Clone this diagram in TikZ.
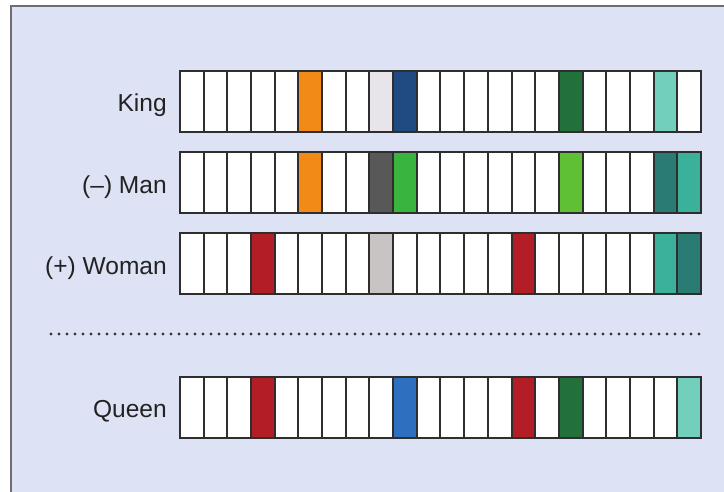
\documentclass[tikz,border=0pt]{standalone}
\usepackage{fontspec}
\setmainfont{Liberation Sans}
\usetikzlibrary{positioning}
\definecolor{bgblue}{HTML}{DDE2F4}
\definecolor{framegray}{HTML}{6E6E72}
\definecolor{cellline}{HTML}{2E2E2E}
\definecolor{txtgray}{HTML}{222222}
% cell colours
\colorlet{w}{white}
\definecolor{or}{HTML}{F28A18}
\definecolor{lg}{HTML}{E7E5EA}
\definecolor{db}{HTML}{1F4A82}
\definecolor{dg}{HTML}{22703A}
\definecolor{lt}{HTML}{72CFBB}
\definecolor{gy}{HTML}{585858}
\definecolor{gr}{HTML}{38B43F}
\definecolor{lgr}{HTML}{5FBF35}
\definecolor{dt}{HTML}{2A7B74}
\definecolor{tl}{HTML}{3BB09B}
\definecolor{rd}{HTML}{B31D25}
\definecolor{mg}{HTML}{C8C4C4}
\definecolor{bl}{HTML}{2F6FBF}
\tikzset{
  cell/.style={draw=cellline, line width=1.5pt, inner sep=0pt,
    minimum width=17.76pt, minimum height=45.4pt, anchor=north west},
  wordlbl/.style={anchor=base east, inner sep=0pt, text=txtgray,
    font=\fontsize{18.4}{22}\selectfont},
  dotline/.style={draw=txtgray!90, line width=2.4pt, line cap=round,
    dash pattern=on 0pt off 6pt},
}

\begin{document}
\begin{tikzpicture}[x=0.75pt, y=-0.75pt]
  \useasboundingbox (0,0) rectangle (724,492);
  \clip (0,0) rectangle (724,492);
  \draw[fill=bgblue, draw=framegray, line width=1.5pt] (11,6) rectangle (760,520);

  % King
  \node[wordlbl] (kinglbl) at (167,111.7) {King};
  \foreach \c [count=\i from 0] in {w,w,w,w,w,or,w,w,lg,db,w,w,w,w,w,w,dg,w,w,w,lt,w}
    \node[cell, fill=\c] (king\i) at ({179+23.68*\i},70) {};

  % Man
  \node[wordlbl] (manlbl) at (167,193) {(--) Man};
  \foreach \c [count=\i from 0] in {w,w,w,w,w,or,w,w,gy,gr,w,w,w,w,w,w,lgr,w,w,w,dt,tl}
    \node[cell, fill=\c] (man\i) at ({179+23.68*\i},151) {};

  % Woman
  \node[wordlbl] (womanlbl) at (167,274) {(+) Woman};
  \foreach \c [count=\i from 0] in {w,w,w,rd,w,w,w,w,mg,w,w,w,w,w,rd,w,w,w,w,w,tl,dt}
    \node[cell, fill=\c] (woman\i) at ({179+23.68*\i},232) {};

  % result
  \coordinate (dotl) at (51,334);
  \coordinate (dotr) at (703,334);
  \draw[dotline] (dotl) -- (dotr);

  % Queen
  \node[wordlbl] (queenlbl) at (167,417.5) {Queen};
  \foreach \c [count=\i from 0] in {w,w,w,rd,w,w,w,w,w,bl,w,w,w,w,rd,w,dg,w,w,w,w,lt}
    \node[cell, fill=\c] (queen\i) at ({179+23.68*\i},376) {};
\end{tikzpicture}
\end{document}
